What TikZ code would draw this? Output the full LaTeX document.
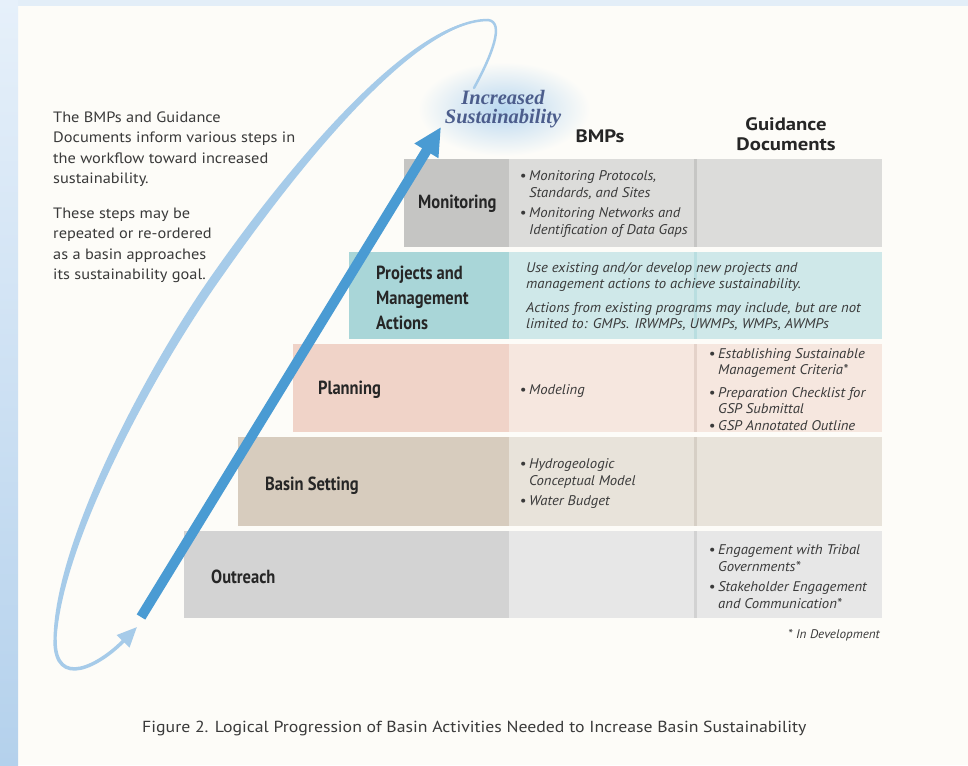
\documentclass[tikz,border=0pt]{standalone}
\usepackage{fontspec}
\setmainfont{PT Sans}
\newfontfamily\labfont[FakeStretch=0.87]{PT Sans}
\newfontfamily\itfont[FakeStretch=1.05]{PT Sans}
\newfontfamily\parafont[FakeStretch=1.09]{PT Sans}
\newfontfamily\capfont[FakeStretch=1.11]{PT Sans}
\newfontfamily\headfont[FakeStretch=1.15]{PT Sans}
\newfontfamily\serifbi{Liberation Serif}
\usetikzlibrary{arrows.meta}
\definecolor{bg}{HTML}{FDFCF8}
\definecolor{stripTop}{HTML}{E3EEF8}
\definecolor{stripA}{HTML}{E6F0FA}
\definecolor{stripB}{HTML}{B4D1EC}
\definecolor{monL}{HTML}{C5C5C3}
\definecolor{monC}{HTML}{DCDCDA}
\definecolor{monS}{HTML}{C6C6C4}
\definecolor{proL}{HTML}{A9D6D8}
\definecolor{proC}{HTML}{CFE8E9}
\definecolor{proS}{HTML}{B9DEE0}
\definecolor{plaL}{HTML}{F0D3C8}
\definecolor{plaC}{HTML}{F6E7DF}
\definecolor{plaS}{HTML}{E4D2C9}
\definecolor{basL}{HTML}{D7CCBE}
\definecolor{basC}{HTML}{E8E3DA}
\definecolor{basS}{HTML}{D6CFC5}
\definecolor{outL}{HTML}{D3D3D3}
\definecolor{outC}{HTML}{E7E7E7}
\definecolor{outS}{HTML}{D2D2D2}
\definecolor{arrowblue}{HTML}{4A9BD3}
\definecolor{loopblue}{HTML}{A6CBE9}
\definecolor{glow}{HTML}{B8D7F0}
\definecolor{titleblue}{HTML}{4C5D8C}
\definecolor{txt}{HTML}{3A3A3A}
\definecolor{labtxt}{HTML}{262626}
\tikzset{
  cell/.style={rectangle, inner sep=0pt, outer sep=0pt, anchor=north west, draw=none},
  labeltext/.style={font=\labfont\bfseries\fontsize{19}{25}\selectfont, text=labtxt, anchor=west, inner sep=0pt, align=left},
  itemtext/.style={font=\itfont\itshape\fontsize{14}{17}\selectfont, text=txt, anchor=west, inner sep=0pt, align=left},
  headtext/.style={font=\headfont\bfseries\fontsize{18}{20}\selectfont, text=labtxt, inner sep=0pt, align=center},
}
\newcommand{\bul}{\llap{•\hspace{3pt}}}
\begin{document}
\begin{tikzpicture}[x=1pt,y=-1pt]
\useasboundingbox (0,0) rectangle (968,765);
% background
\fill[bg] (0,0) rectangle (968,765);
\fill[stripTop] (0,0) rectangle (968,6);
\shade[top color=stripA, bottom color=stripB] (0,0) rectangle (18,765);

% glow
\shade[inner color=glow, outer color=bg] (504,109) ellipse [x radius=86, y radius=47];

% rows
\node[cell, fill=monL, minimum width=105pt, minimum height=88pt] (monLab) at (404,159) {};
\node[cell, fill=monC, minimum width=185pt, minimum height=88pt] (monBmp) at (509,159) {};
\node[cell, fill=monS, minimum width=3pt, minimum height=88pt] (monSep) at (694,159) {};
\node[cell, fill=monC, minimum width=185pt, minimum height=88pt] (monGd) at (697,159) {};

\node[cell, fill=proL, minimum width=160pt, minimum height=87pt] (proLab) at (349,252) {};
\node[cell, fill=proC, minimum width=185pt, minimum height=87pt] (proBmp) at (509,252) {};
\node[cell, fill=proS, minimum width=3pt, minimum height=87pt] (proSep) at (694,252) {};
\node[cell, fill=proC, minimum width=185pt, minimum height=87pt] (proGd) at (697,252) {};

\node[cell, fill=plaL, minimum width=216pt, minimum height=88pt] (plaLab) at (293,344) {};
\node[cell, fill=plaC, minimum width=185pt, minimum height=88pt] (plaBmp) at (509,344) {};
\node[cell, fill=plaS, minimum width=3pt, minimum height=88pt] (plaSep) at (694,344) {};
\node[cell, fill=plaC, minimum width=185pt, minimum height=88pt] (plaGd) at (697,344) {};

\node[cell, fill=basL, minimum width=271pt, minimum height=89pt] (basLab) at (238,437) {};
\node[cell, fill=basC, minimum width=185pt, minimum height=89pt] (basBmp) at (509,437) {};
\node[cell, fill=basS, minimum width=3pt, minimum height=89pt] (basSep) at (694,437) {};
\node[cell, fill=basC, minimum width=185pt, minimum height=89pt] (basGd) at (697,437) {};

\node[cell, fill=outL, minimum width=325pt, minimum height=87pt] (outLab) at (184,531) {};
\node[cell, fill=outC, minimum width=185pt, minimum height=87pt] (outBmp) at (509,531) {};
\node[cell, fill=outS, minimum width=3pt, minimum height=87pt] (outSep) at (694,531) {};
\node[cell, fill=outC, minimum width=185pt, minimum height=87pt] (outGd) at (697,531) {};

% row labels
\node[labeltext] (tMon) at (418,204) {Monitoring};
\node[labeltext] (tPro) at (376,298) {Projects and\\Management\\Actions};
\node[labeltext] (tPla) at (318,390) {Planning};
\node[labeltext] (tBas) at (265,486) {Basin Setting};
\node[labeltext] (tOut) at (211,577) {Outreach};

% headers
\node[headtext] (hBmp) at (600,136) {BMPs};
\node[headtext] (hGd) at (786,134) {Guidance\\Documents};
\node[font=\serifbi\bfseries\itshape\fontsize{20.5}{19}\selectfont, text=titleblue, align=center, inner sep=0pt] (goal) at (503,109) {Increased\\Sustainability};

% items
\node[itemtext] (iMon) at (529,204) {\bul Monitoring Protocols,\\Standards, and Sites\\[3pt]\bul Monitoring Networks and\\Identification of Data Gaps};
\node[itemtext, font=\itfont\itshape\fontsize{14}{16}\selectfont] (iPro) at (526,297) {Use existing and/or develop new projects and\\management actions to achieve sustainability.\\[8pt]Actions from existing programs may include, but are not\\limited to: GMPs. IRWMPs, UWMPs, WMPs, AWMPs};
\node[itemtext] (iPlaB) at (529,391) {\bul Modeling};
\node[itemtext, font=\itfont\itshape\fontsize{14}{16}\selectfont] (iPlaG) at (718,390) {\bul Establishing Sustainable\\Management Criteria*\\[7pt]\bul Preparation Checklist for\\GSP Submittal\\[1pt]\bul GSP Annotated Outline};
\node[itemtext] (iBas) at (529,484) {\bul Hydrogeologic\\Conceptual Model\\[3pt]\bul Water Budget};
\node[itemtext] (iOut) at (718,577) {\bul Engagement with Tribal\\Governments*\\[3pt]\bul Stakeholder Engagement\\and Communication*};
\node[itemtext, anchor=east, font=\itfont\itshape\fontsize{12.5}{15}\selectfont] (note) at (880,635) {* In Development};

% left paragraph
\node[font=\parafont\fontsize{15}{20.5}\selectfont, text=txt, align=left, anchor=west, inner sep=0pt] (para) at (53,197) {The BMPs and Guidance\\Documents inform various steps in\\the workflow toward increased\\sustainability.\\[14pt]These steps may be\\repeated or re-ordered\\as a basin approaches\\its sustainability goal.};

% caption
\node[font=\capfont\fontsize{16}{18}\selectfont, text=txt, anchor=west, inner sep=0pt] (caption) at (142,728) {Figure 2. Logical Progression of Basin Activities Needed to Increase Basin Sustainability};

% loop arrow
\coordinate (loopTail) at (474,88);
\coordinate (loopTop) at (488,20);
\coordinate (loopMid) at (219,273);
\coordinate (loopLow) at (55,640);
\coordinate (loopTip) at (137,627);
\fill[loopblue] (loopTop) .. controls (404,16) and (264.3,200.4) .. (215.3,270.4)
   .. controls (150.3,361.4) and (54,540) .. (53.5,640) -- (56.5,640)
   .. controls (62,540) and (157.7,366.6) .. (222.7,275.6)
   .. controls (271.7,205.6) and (404,24) .. (loopTop) -- cycle;
\draw[loopblue, line width=2.5pt, line cap=round] (loopTail) .. controls (492,55) and (505,22) .. (loopTop)
   .. controls (404,20) and (268,203) .. (loopMid)
   .. controls (154,364) and (58,540) .. (loopLow);
\draw[loopblue, line width=3.5pt, -{Triangle[length=20pt,width=17pt]}] (loopLow) .. controls (55,690) and (100,665) .. (loopTip);

% main arrow
\coordinate (arrStart) at (141,617);
\coordinate (arrEnd) at (441,127);
\draw[arrowblue, line width=10pt, -{Triangle[length=28pt,width=26pt]}] (arrStart) -- (arrEnd);
\end{tikzpicture}
\end{document}
